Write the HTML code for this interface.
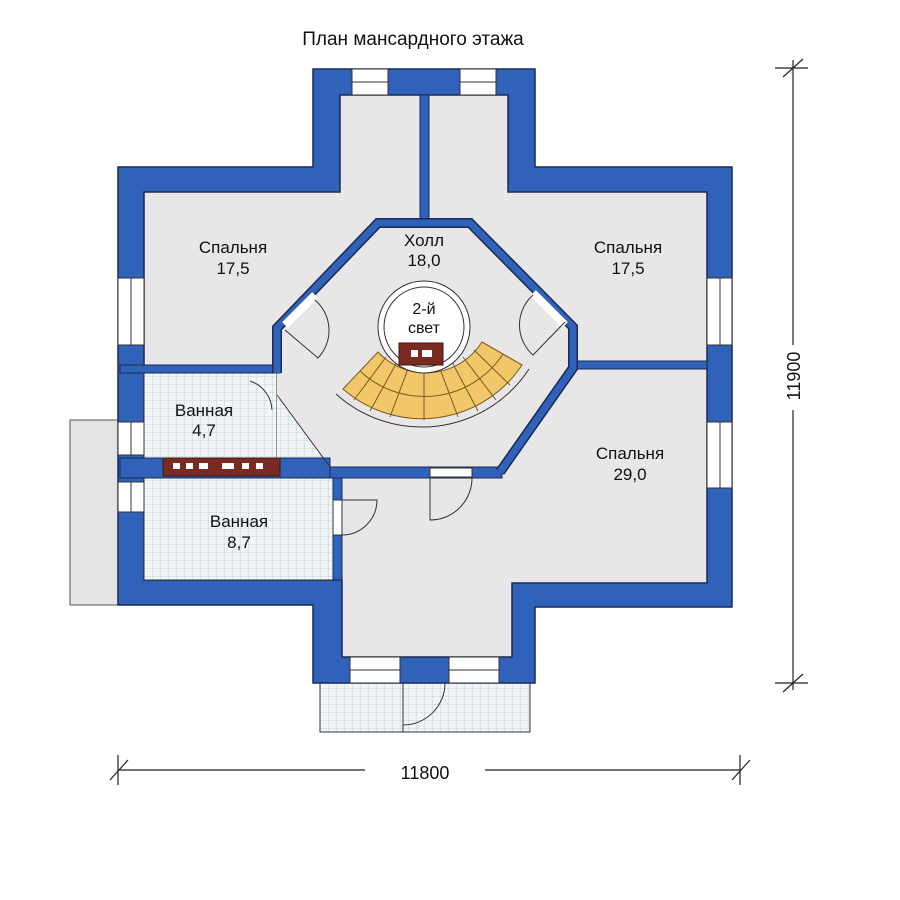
<!DOCTYPE html>
<html><head><meta charset="utf-8"><style>body{margin:0;background:#fff}svg{display:block}text{font-family:"Liberation Sans",sans-serif;fill:#111}</style></head><body>
<svg width="900" height="900" viewBox="0 0 900 900" xmlns="http://www.w3.org/2000/svg">
<defs>
<pattern id="tile" width="8" height="8" patternUnits="userSpaceOnUse"><rect width="8" height="8" fill="#f2f5f8"/><path d="M0 0H8M0 0V8" stroke="#b9c8d6" stroke-width="0.8"/></pattern>
</defs>
<text x="413" y="45" font-size="19" text-anchor="middle">План мансардного этажа</text>
<rect x="70" y="420" width="48" height="185" fill="#e4e4e4" stroke="#555"/>
<rect x="320" y="683" width="210" height="49" fill="url(#tile)" stroke="#333"/>
<line x1="403" y1="683" x2="403" y2="732" stroke="#333"/>
<path d="M403 725 A42 42 0 0 0 445 683" fill="none" stroke="#333"/>
<path d="M313 69H535V167H732V607H535V683H313V605H118V167H313Z" fill="#2f62b8" stroke="#1a2a55" stroke-width="1.5"/>
<path d="M340 95H508V192H707V583H512V657H342V580H144V192H340Z" fill="#e9e6e8" stroke="#1a2a55" stroke-width="1.5"/>
<rect x="144" y="373" width="133" height="85" fill="url(#tile)" stroke="#333"/>
<polygon points="277,395 330,467 277,467" fill="url(#tile)"/>
<rect x="144" y="478" width="189" height="102" fill="url(#tile)" stroke="#333"/>
<path d="M378 223H470L573 327V368L500 467H330L277 395V328Z" fill="#e9e6e8"/>
<rect x="420" y="95" width="9" height="130" fill="#2f62b8" stroke="#1a2a55"/>
<rect x="573" y="361" width="134" height="8" fill="#2f62b8" stroke="#1a2a55"/>
<rect x="120" y="365" width="160" height="8" fill="#2f62b8" stroke="#1a2a55"/>
<rect x="120" y="458" width="210" height="20" fill="#2f62b8" stroke="#1a2a55"/>
<rect x="163" y="458" width="117" height="18" fill="#7a2a22" stroke="#3a1a10"/>
<g fill="#fff"><rect x="173" y="463" width="7" height="6"/><rect x="186" y="463" width="7" height="6"/><rect x="199" y="463" width="9" height="6"/><rect x="222" y="463" width="12" height="6"/><rect x="242" y="463" width="7" height="6"/><rect x="256" y="463" width="7" height="6"/></g>
<rect x="330" y="467" width="172" height="11" fill="#2f62b8" stroke="#1a2a55"/>
<rect x="333" y="478" width="9" height="102" fill="#2f62b8" stroke="#1a2a55"/>
<rect x="333" y="500" width="9" height="35" fill="#fff" stroke="#333"/>
<rect x="430" y="468" width="42" height="9" fill="#fff" stroke="#333"/>
<path d="M430 477V520A42 42 0 0 0 472 477" fill="none" stroke="#333"/>
<path d="M342 535A35 35 0 0 0 377 500H342" fill="none" stroke="#333"/>
<path d="M277 373V328L378 223H470L573 327V368L500 472" fill="none" stroke="#1a2a55" stroke-width="10"/>
<path d="M277 373V328L378 223H470L573 327V368L500 472" fill="none" stroke="#2f62b8" stroke-width="7"/>
<line x1="277" y1="395" x2="330" y2="467" stroke="#333"/>
<line x1="285" y1="325" x2="315" y2="295" stroke="#fff" stroke-width="8"/>
<path d="M285 330L318 358A40 40 0 0 0 315 300" fill="none" stroke="#333"/>
<line x1="533" y1="293" x2="565" y2="325" stroke="#fff" stroke-width="8"/>
<path d="M565 322L533 355A40 40 0 0 1 533 295" fill="none" stroke="#333"/>
<path d="M250 381A32 32 0 0 1 272 410" fill="none" stroke="#333"/>
<path d="M522 365A120 120 0 0 1 343 389L378 352A66 66 0 0 0 482 342Z" fill="#f1c76a" stroke="#7a5a20"/>
<path d="M529 369A128 128 0 0 1 336 394" fill="none" stroke="#333" stroke-width="1"/>
<g stroke="#7a5a20" stroke-width="1" fill="none">
<path d="M503 354A94 94 0 0 1 360 371"/>
<line x1="482" y1="342" x2="522" y2="365"/><line x1="474" y1="350" x2="510" y2="385"/><line x1="463" y1="357" x2="496" y2="400"/><line x1="452" y1="362" x2="478" y2="411"/><line x1="439" y1="366" x2="458" y2="417"/><line x1="424" y1="367" x2="424" y2="420"/><line x1="409" y1="366" x2="390" y2="417"/><line x1="397" y1="362" x2="370" y2="411"/><line x1="386" y1="357" x2="354" y2="400"/></g>
<circle cx="424" cy="327" r="46" fill="#fff" stroke="#333"/>
<circle cx="424" cy="327" r="40" fill="#fff" stroke="#333"/>
<rect x="399" y="343" width="44" height="22" fill="#7a2a22" stroke="#3a1a10"/>
<rect x="411" y="350" width="7" height="7" fill="#fff"/><rect x="422" y="350" width="10" height="7" fill="#fff"/>
<text x="424" y="314" font-size="16" text-anchor="middle">2-й</text>
<text x="424" y="333" font-size="16" text-anchor="middle">свет</text>
<g fill="#fff" stroke="#333">
<rect x="352" y="69" width="36" height="26"/><rect x="460" y="69" width="36" height="26"/>
<rect x="118" y="278" width="26" height="67"/><rect x="118" y="422" width="26" height="33"/><rect x="118" y="482" width="26" height="30"/>
<rect x="707" y="278" width="25" height="67"/><rect x="707" y="422" width="25" height="66"/>
<rect x="350" y="657" width="50" height="26"/><rect x="449" y="657" width="50" height="26"/>
</g>
<g stroke="#333"><line x1="352" y1="82" x2="388" y2="82"/><line x1="460" y1="82" x2="496" y2="82"/><line x1="131" y1="278" x2="131" y2="345"/><line x1="131" y1="422" x2="131" y2="455"/><line x1="131" y1="482" x2="131" y2="512"/><line x1="720" y1="278" x2="720" y2="345"/><line x1="720" y1="422" x2="720" y2="488"/><line x1="350" y1="670" x2="400" y2="670"/><line x1="449" y1="670" x2="499" y2="670"/></g>
<g font-size="17" text-anchor="middle">
<text x="233" y="253">Спальня</text><text x="233" y="274">17,5</text>
<text x="424" y="246">Холл</text><text x="424" y="266">18,0</text>
<text x="628" y="253">Спальня</text><text x="628" y="274">17,5</text>
<text x="630" y="459">Спальня</text><text x="630" y="480">29,0</text>
<text x="204" y="416">Ванная</text><text x="204" y="436">4,7</text>
<text x="239" y="527">Ванная</text><text x="239" y="548">8,7</text>
</g>
<g stroke="#222" stroke-width="1.2">
<line x1="118" y1="770" x2="365" y2="770"/><line x1="485" y1="770" x2="740" y2="770"/>
<line x1="118" y1="755" x2="118" y2="785"/><line x1="740" y1="755" x2="740" y2="785"/>
<line x1="110" y1="780" x2="128" y2="760"/><line x1="732" y1="780" x2="750" y2="760"/>
<line x1="793" y1="60" x2="793" y2="345"/><line x1="793" y1="410" x2="793" y2="690"/>
<line x1="775" y1="68" x2="808" y2="68"/><line x1="775" y1="683" x2="808" y2="683"/>
<line x1="783" y1="77" x2="803" y2="59"/><line x1="783" y1="692" x2="803" y2="674"/>
</g>
<text x="425" y="779" font-size="18" text-anchor="middle">11800</text>
<text x="0" y="0" font-size="18" text-anchor="middle" transform="translate(800,376) rotate(-90)">11900</text>
</svg>
</body></html>
